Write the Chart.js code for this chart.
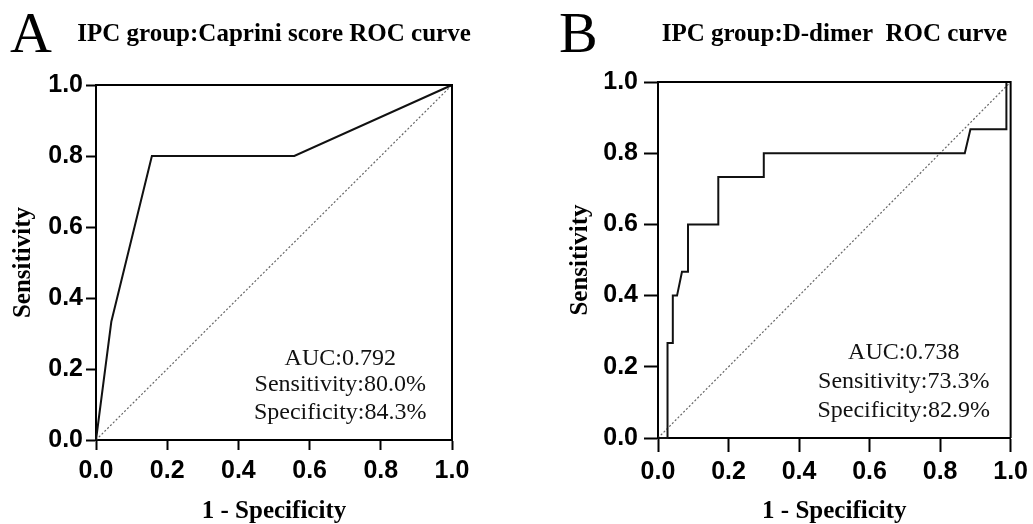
<!DOCTYPE html>
<html lang="en">
<head>
    <meta charset="UTF-8">
    <title>IPC group ROC curves</title>
    <script src="https://cdn.jsdelivr.net/npm/chart.js"></script>
    <style>
        * {
            margin: 0;
            padding: 0;
            box-sizing: border-box;
        }
        body {
            background-color: #fff;
            width: 1033px;
            height: 524px;
            overflow: hidden;
            position: relative;
        }
        canvas {
            position: absolute;
            top: 0;
        }
        #roc-a { left: 0; }
        #roc-b { left: 520px; }
    </style>
</head>
<body>
    <canvas id="roc-a" width="516" height="524"></canvas>
    <canvas id="roc-b" width="513" height="524"></canvas>
    <script>
        // data
        const tickValues = [0, 0.2, 0.4, 0.6, 0.8, 1.0];
        const refLine = [0, 1];

        const capriniFpr = [0, 0.043, 0.157, 0.557, 1.0];
        const capriniTpr = [0, 0.333, 0.8, 0.8, 1.0];
        const capriniStats = ['AUC:0.792', 'Sensitivity:80.0%', 'Specificity:84.3%'];

        const ddimerFpr = [0, 0.027, 0.027, 0.042, 0.042, 0.054, 0.068, 0.085, 0.085, 0.171, 0.171, 0.3, 0.3, 0.87, 0.886, 0.988, 0.988, 1.0];
        const ddimerTpr = [0, 0, 0.267, 0.267, 0.4, 0.4, 0.467, 0.467, 0.6, 0.6, 0.733, 0.733, 0.8, 0.8, 0.867, 0.867, 1.0, 1.0];
        const ddimerStats = ['AUC:0.738', 'Sensitivity:73.3%', 'Specificity:82.9%'];

        const panelLetters = ['A', 'B'];
        const panelTitles = ['IPC group:Caprini score ROC curve', 'IPC group:D-dimer  ROC curve'];
        const xLabel = '1 - Specificity';
        const yLabel = 'Sensitivity';

        const serif = "'Liberation Serif', 'Times New Roman', serif";
        const sans = "'Liberation Sans', Arial, sans-serif";

        function toPoints(xs, ys) {
            return xs.map((x, i) => ({ x: x, y: ys[i] }));
        }

        // letter, title, frame and stats text
        function panelPlugin(letter, title, lines, cfg) {
            return {
                id: 'panel' + letter,
                afterDraw(chart) {
                    const ctx = chart.ctx;
                    const area = chart.chartArea;
                    ctx.save();
                    // top and right frame
                    ctx.strokeStyle = '#000';
                    ctx.lineWidth = 2;
                    ctx.beginPath();
                    ctx.moveTo(area.left, area.top);
                    ctx.lineTo(area.right, area.top);
                    ctx.lineTo(area.right, area.bottom);
                    ctx.stroke();

                    ctx.fillStyle = '#000';
                    ctx.textBaseline = 'alphabetic';
                    ctx.textAlign = 'left';
                    ctx.font = '58px ' + serif;
                    ctx.fillText(letter, cfg.letterX, 52);

                    ctx.textAlign = 'center';
                    ctx.font = 'bold 25px ' + serif;
                    ctx.fillText(title, (area.left + area.right) / 2, 41);

                    const cx = chart.scales.x.getPixelForValue(cfg.textX);
                    ctx.font = '24px ' + serif;
                    ctx.fillStyle = '#111';
                    ctx.textBaseline = 'middle';
                    lines.forEach((t, i) => {
                        ctx.fillText(t, cx, chart.scales.y.getPixelForValue(cfg.textY[i]));
                    });
                    ctx.restore();
                }
            };
        }

        function makeChart(id, xs, ys, letter, title, lines, cfg) {
            const ctx = document.getElementById(id).getContext('2d');
            return new Chart(ctx, {
                type: 'scatter',
                data: {
                    datasets: [{
                        data: toPoints(xs, ys),
                        showLine: true,
                        borderColor: '#111',
                        borderWidth: 2,
                        pointRadius: 0,
                        tension: 0,
                        clip: 4
                    }, {
                        data: toPoints(refLine, refLine),
                        showLine: true,
                        borderColor: '#666',
                        borderWidth: 1.2,
                        borderDash: [2, 2],
                        pointRadius: 0
                    }]
                },
                options: {
                    responsive: false,
                    devicePixelRatio: 1,
                    animation: false,
                    layout: { padding: cfg.padding },
                    plugins: {
                        legend: { display: false },
                        title: { display: false },
                        tooltip: { enabled: false }
                    },
                    scales: {
                        x: {
                            type: 'linear',
                            min: 0,
                            max: 1,
                            afterBuildTicks: s => { s.ticks = tickValues.map(v => ({ value: v })); },
                            afterFit: s => { s.height = cfg.xHeight; },
                            ticks: {
                                callback: v => v.toFixed(1),
                                color: '#000',
                                padding: cfg.xTickPad,
                                maxRotation: 0,
                                font: { family: sans, size: 25, weight: 'bold', lineHeight: 1.2 }
                            },
                            grid: { drawOnChartArea: false, drawTicks: true, tickLength: cfg.tickLen, tickWidth: 2, tickColor: '#000' },
                            border: { color: '#000', width: 2 },
                            title: {
                                display: true,
                                text: xLabel,
                                color: '#000',
                                padding: { top: 0, bottom: 0 },
                                font: { family: serif, size: 25, weight: 'bold', lineHeight: 1 }
                            }
                        },
                        y: {
                            type: 'linear',
                            min: 0,
                            max: 1,
                            afterBuildTicks: s => { s.ticks = tickValues.map(v => ({ value: v })); },
                            afterFit: s => { s.width = cfg.yWidth; },
                            ticks: {
                                callback: v => v.toFixed(1),
                                color: '#000',
                                padding: cfg.yTickPad,
                                font: { family: sans, size: 25, weight: 'bold', lineHeight: 1.2 }
                            },
                            grid: { drawOnChartArea: false, drawTicks: true, tickLength: cfg.tickLen, tickWidth: 2, tickColor: '#000' },
                            border: { color: '#000', width: 2 },
                            title: {
                                display: true,
                                text: yLabel,
                                color: '#000',
                                padding: { top: cfg.yTitlePad, bottom: 0 },
                                font: { family: serif, size: 25, weight: 'bold', lineHeight: 1.2 }
                            }
                        }
                    }
                },
                plugins: [panelPlugin(letter, title, lines, cfg)]
            });
        }

        makeChart('roc-a', capriniFpr, capriniTpr, panelLetters[0], panelTitles[0], capriniStats, {
            padding: { top: 85, right: 64, bottom: 0, left: 0 },
            xHeight: 84,
            yWidth: 96,
            tickLen: 10,
            xTickPad: 6,
            yTickPad: 3,
            yTitlePad: 9,
            letterX: 10,
            textX: 0.686,
            textY: [0.23, 0.155, 0.076]
        });

        makeChart('roc-b', ddimerFpr, ddimerTpr, panelLetters[1], panelTitles[1], ddimerStats, {
            padding: { top: 82, right: 21, bottom: 0, left: 0 },
            xHeight: 86,
            yWidth: 138,
            tickLen: 14,
            xTickPad: 5,
            yTickPad: 6,
            yTitlePad: 46,
            letterX: 39,
            textX: 0.697,
            textY: [0.239, 0.158, 0.078]
        });
    </script>
</body>
</html>
